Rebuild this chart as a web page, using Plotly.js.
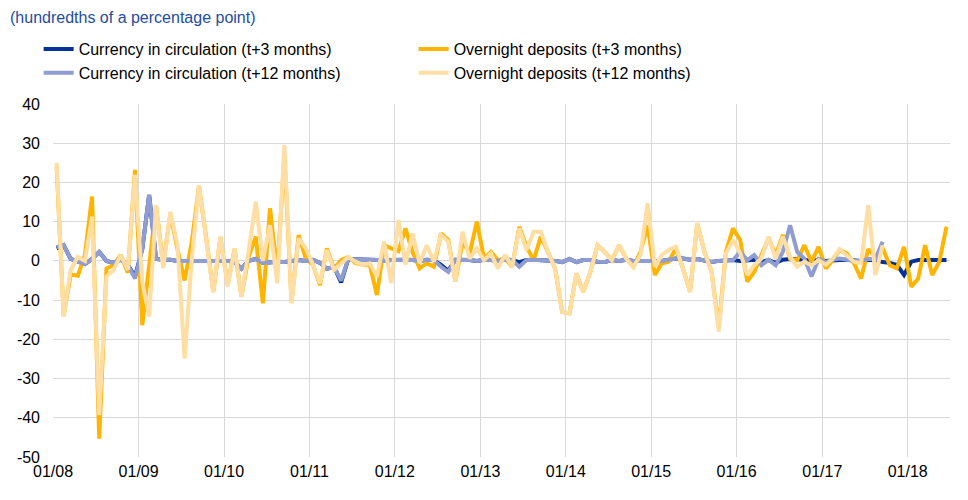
<!DOCTYPE html>
<html>
<head>
<meta charset="utf-8">
<script src="https://cdn.plot.ly/plotly-3.0.1.min.js"></script>
<style>
  html, body { margin: 0; padding: 0; background: #ffffff; }
  #chart { width: 968px; height: 500px; }
</style>
</head>
<body>
<div id="chart"></div>
<script>
// Monthly observations, January 2008 to June 2018
const firstYear = 2008;
const monthCount = 126;
const months = [];
for (let k = 0; k < monthCount; k++) {
  const y = firstYear + Math.floor(k / 12);
  const m = (k % 12) + 1;
  months.push(y + '-' + (m < 10 ? '0' + m : m));
}

const seriesNames = [
  'Currency in circulation (t+3 months)',
  'Overnight deposits (t+3 months)',
  'Currency in circulation (t+12 months)',
  'Overnight deposits (t+12 months)'
];

// Currency in circulation, revision after 3 months
const cic3 = [
  3.2, 4, 0.5, -0.2, -0.8, 0.5, 2.3, 0, -0.5, 0.3, -1, -4, 3, 16.8, 0.5, 0.3, 0.3, 0, 0, 0,
  0, 0, 0.2, 0, 0, -0.3, -2, 0, 0.5, -0.5, -0.3, -0.2, -0.3, 0, 0.2, 0, 0.3, -0.5, -2, -1.5,
  -5.5, 0.5, 0.5, 0.3, 0.3, 0.2, 0, 0.2, 0.3, 0.3, 0.2, 0, 0.3, 0.2, -1, -2.5, 0.3, 0.3, 0.2, 0,
  0.3, 0.2, 0, 0.3, 0.2, -0.3, 0.2, 0.3, 0.2, 0.2, 0, -0.3, 0.5, -0.3, 0.2, 0.2, -0.2, -0.3, 0.2, 0,
  0.3, 0, 0, 0, 0, 0, 0.3, 0.6, 0.6, 0.3, 0.5, 0.2, -0.3, 0, 0.2, 0.2, 0, 0.2, 0.3, -0.3,
  0.2, -0.5, 0.3, 0.5, 0.5, 0.3, 0, 0.2, 0, 0.2, 0.2, 0.3, 0.2, 0, 0.2, 0.2, -0.3, -0.5, -1, -3.6,
  -0.2, 0.2, 0.2, 0.3, 0.2, 0.2
];

// Overnight deposits, revision after 3 months
const od3 = [
  24, -14, -3.5, -3.8, 1.5, 16.4, -45.3, -2, -1, 1.5, -3, 23.2, -16.4, -1, 14, -1, 12, 3, -5, 5,
  19, 6, -7.9, 6, -6, 3, -9, 1, 6.2, -10.8, 13.4, -3, 27, -10.5, 6.6, 0.6, -1, -6.2, 3.2, -2,
  0.2, 1, -0.5, -1, -1, -8.7, 4, 3.2, 2.5, 8.3, 2.3, -1.9, -0.6, -1.5, 7, 5.3, -5.3, 4.9, 1.9, 10,
  0.6, 2.3, 0.2, 0.6, -1.5, 8.7, 3.6, 0.2, 6.2, 2.3, -2, -13, -13.4, -3.2, -7.9, -2.8, 4, 2.3, 0.2, 4,
  0.6, -1.5, 2.3, 9, -3.6, -0.6, -0.2, 3.2, -1.9, -7.9, 9.6, 2.3, -2.8, -17, 2.3, 8.3, 5.3, -5.3, -2.8, 1.5,
  5.7, 1.5, 6.6, 0.5, 0.2, 4, -0.2, 3.6, -1.9, 0.2, 2.8, 1.9, -0.6, -4.5, 3, 1, 3.2, -1.1, -1.9, 3.6,
  -6.6, -4.5, 4, -3.6, -0.2, 8.7
];

// Currency in circulation, revision after 12 months
const cic12 = [
  3.5, 4, 0.5, -0.2, -0.8, 0.5, 2.3, 0, -0.5, 0.3, -1, -4.5, 3, 16.8, 0.5, 0.3, 0.3, 0, 0, 0,
  0, 0, 0.2, 0, 0, -0.3, -2, 0, 0.5, -0.5, -0.3, -0.2, -0.3, 0, 0.2, 0, 0.3, -0.5, -2, -1.5,
  -5, 0.5, 0.5, 0.3, 0.3, 0.2, 0, 0.2, 0.3, 0.3, 0.2, 0, 0.3, 0.2, -1.5, -2.8, 0.3, 0.3, 0.2, 0,
  0.3, 0.2, 0, 0.3, 0.2, -1.5, 0.2, 0.3, 0.2, 0.2, 0, -0.3, 0.5, -0.3, 0.2, 0.2, -0.2, -0.3, 0.2, 0,
  0.3, 0, 0, 0, 0, 0, 0.3, 0.6, 0.6, 0.3, 0.5, 0.2, -0.3, 0, 0.2, 0.2, 2.3, 0.2, 1.5, -1.1,
  0.3, -1.1, 2.3, 9.1, 2.3, 0.6, -4, 0.5, -0.3, 0.3, 0.6, 0.3, 0, 0, 0.5, 0.5, 4.9
];

// Overnight deposits, revision after 12 months
const od12 = [
  25, -14.2, -2.3, 1, 0, 11.3, -39.3, -4, -2.3, 1.5, -2.3, 21.9, -5.3, -14.2, 14.2, -1.9, 12.5, 4, -24.9, 0.6,
  19.3, 6, -7.9, 6.2, -6.6, 3.2, -9.2, 2.5, 15.1, 0, 9.1, -5.7, 29.5, -10.8, 5.7, 3.2, -1, -5.7, 2.8, -2.3,
  -0.6, 1, -0.2, -1, -0.6, -4, 4.9, -5.7, 10.4, -1, 7, -0.6, 4, -0.2, 6.6, 4.9, -5.3, 7.4, 0.6, 3.2,
  0.2, 1.9, -1.9, 1.5, -1.5, 8.3, 2.8, 7.4, 7.4, 2.3, -1.9, -13, -13.4, -3.2, -7.9, -2.8, 4, 2.3, 0.2, 4,
  0.6, -1.5, 1.5, 14.7, -1.5, 1.5, 2.8, 3.6, -1.9, -7.9, 9.6, 2.3, -2.8, -18, 1.9, 5.3, 2, -3.6, -1.1, 0.6,
  6.2, 0.6, 6.2, 1, -1.5, -0.2, -1.1, 0.2, -1, 0.6, 3, 1.5, -0.2, -0.6, 14.2, -3.6, 4
];

const yTicks = [-50, -40, -30, -20, -10, 0, 10, 20, 30, 40];

const colors = ['#003299', '#FFB400', '#8F9DD2', '#FFDEA3'];
const values = [cic3, od3, cic12, od12];

const traces = values.map((vals, k) => ({
  type: 'scatter',
  mode: 'lines',
  name: seriesNames[k],
  x: months.slice(0, vals.length),
  y: vals,
  xperiod: 'M1',
  xperiodalignment: 'middle',
  line: { color: colors[k], width: 4, shape: 'linear' },
  hoverinfo: 'x+y+name'
}));

const font = 'Arial, "Liberation Sans", sans-serif';

const layout = {
  width: 968,
  height: 500,
  paper_bgcolor: '#ffffff',
  plot_bgcolor: '#ffffff',
  margin: { l: 53, r: 18, t: 104, b: 43 },
  font: { family: font, size: 16, color: '#000000' },
  title: {
    text: '(hundredths of a percentage point)',
    font: { family: font, size: 16, color: '#1F4DA0' },
    xref: 'container', yref: 'container',
    x: 10 / 968, xanchor: 'left',
    y: 1 - 17 / 500, yanchor: 'middle'
  },
  showlegend: true,
  legend: {
    orientation: 'h',
    x: -0.016, xanchor: 'left',
    y: 1 + (104 - 32) / 353, yanchor: 'top',
    entrywidth: 330,
    entrywidthmode: 'pixels',
    font: { family: font, size: 16, color: '#000000' },
    bgcolor: 'rgba(0,0,0,0)',
    traceorder: 'normal',
    itemwidth: 30
  },
  xaxis: {
    type: 'date',
    range: ['2008-01-01', '2018-07-01'],
    tick0: '2008-01-01',
    dtick: 'M12',
    tickformat: '%m/%y',
    ticks: '',
    showgrid: true,
    gridcolor: '#D9D9D9',
    gridwidth: 1,
    zeroline: false,
    showline: false,
    ticklabelstandoff: 3,
    tickfont: { family: font, size: 16, color: '#000000' },
    fixedrange: true
  },
  yaxis: {
    range: [-50, 40],
    tickvals: yTicks,
    ticktext: yTicks.map(String),
    showgrid: true,
    gridcolor: '#D9D9D9',
    gridwidth: 1,
    zeroline: false,
    showline: false,
    ticks: '',
    ticklabelstandoff: 12,
    tickfont: { family: font, size: 16, color: '#000000' },
    fixedrange: true
  }
};

Plotly.newPlot('chart', traces, layout, { displayModeBar: false, staticPlot: true });
</script>
</body>
</html>
